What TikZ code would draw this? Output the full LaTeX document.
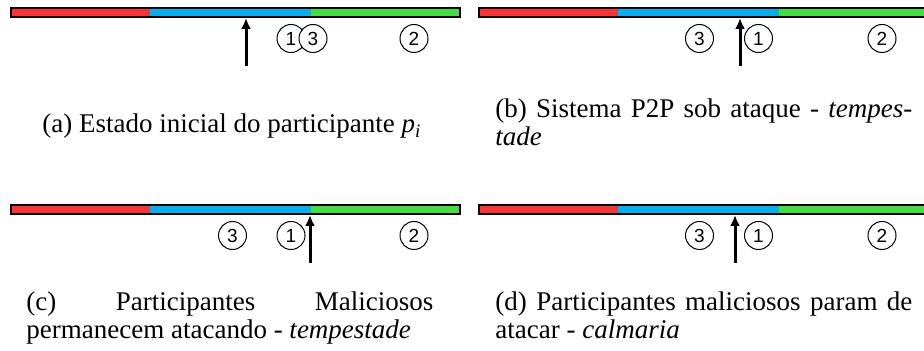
\documentclass[tikz,border=0pt]{standalone}
\usepackage{fontspec}
\setmainfont{Liberation Serif}
\newfontfamily\digitfont{Liberation Sans}
\usetikzlibrary{arrows.meta}

\definecolor{segred}{RGB}{255,51,51}
\definecolor{segblue}{RGB}{0,176,240}
\definecolor{seggreen}{RGB}{64,224,64}

\tikzset{
  barstrip/.style={
    draw=black, line width=1pt, anchor=west,
    minimum width=224.5pt, minimum height=4.5pt, inner sep=0pt, outer sep=0.5pt,
    path picture={
      \fill[segred] (path picture bounding box.south west)
        rectangle ([xshift=69.5pt]path picture bounding box.north west);
      \fill[segblue] ([xshift=69.5pt]path picture bounding box.south west)
        rectangle ([xshift=150pt]path picture bounding box.north west);
      \fill[seggreen] ([xshift=150pt]path picture bounding box.south west)
        rectangle (path picture bounding box.north east);
    }},
  ring/.style={circle, draw=black, line width=0.5pt, fill=white,
    minimum size=14pt, inner sep=0pt,
    font=\digitfont\fontsize{9.5}{9.5}\selectfont},
  pointer/.style={line width=1.5pt, -{Latex[length=5.5pt,width=5pt]}},
  capline/.style={font=\fontsize{13.5}{14}\selectfont, inner sep=0pt, anchor=base west},
}

\begin{document}
\begin{tikzpicture}[x=0.5pt,y=-0.5pt]
  \clip (0,0) rectangle (924,351);
  \useasboundingbox (0,0) rectangle (924,351);

  % (a) initial state
  \node[barstrip] (barA) at (10,12.5) {};
  \coordinate (tailA) at (246,66);
  \draw[pointer] (tailA) -- (tailA |- barA.south);
  \node[ring] (a1) at (291,38.5) {1};
  \node[ring] (a3) at (313,38.5) {3};
  \node[ring] (a2) at (414,38.5) {2};
  \node[capline] (capA) at (42,133)
    {(a) Estado inicial do participante \textit{p}\textsubscript{\textit{i}}};

  % (b) under attack
  \node[barstrip] (barB) at (478,12.5) {};
  \coordinate (tailB) at (740,66);
  \draw[pointer] (tailB) -- (tailB |- barB.south);
  \node[ring] (b3) at (699.5,38.5) {3};
  \node[ring] (b1) at (758.5,38.5) {1};
  \node[ring] (b2) at (882,38.5) {2};
  \node[capline] (capB1) at (495,118)
    {\makebox[208.5pt][s]{(b) Sistema P2P sob ataque - \textit{tempes-}}};
  \node[capline] (capB2) at (495,146) {\textit{tade}};

  % (c) attackers keep going
  \node[barstrip] (barC) at (10,209.5) {};
  \coordinate (tailC) at (310,263);
  \draw[pointer] (tailC) -- (tailC |- barC.south);
  \node[ring] (c3) at (232.5,235.5) {3};
  \node[ring] (c1) at (291,235.5) {1};
  \node[ring] (c2) at (414,235.5) {2};
  \node[capline] (capC1) at (26,311)
    {\makebox[203.5pt][s]{(c) Participantes Maliciosos}};
  \node[capline] (capC2) at (26,339)
    {permanecem atacando - \textit{tempestade}};

  % (d) attackers stop
  \node[barstrip] (barD) at (478,209.5) {};
  \coordinate (tailD) at (735,263);
  \draw[pointer] (tailD) -- (tailD |- barD.south);
  \node[ring] (d3) at (699.5,235.5) {3};
  \node[ring] (d1) at (758.5,235.5) {1};
  \node[ring] (d2) at (882,235.5) {2};
  \node[capline] (capD1) at (495,311)
    {\makebox[208.5pt][s]{(d) Participantes maliciosos param de}};
  \node[capline] (capD2) at (495,339) {atacar - \textit{calmaria}};
\end{tikzpicture}
\end{document}
